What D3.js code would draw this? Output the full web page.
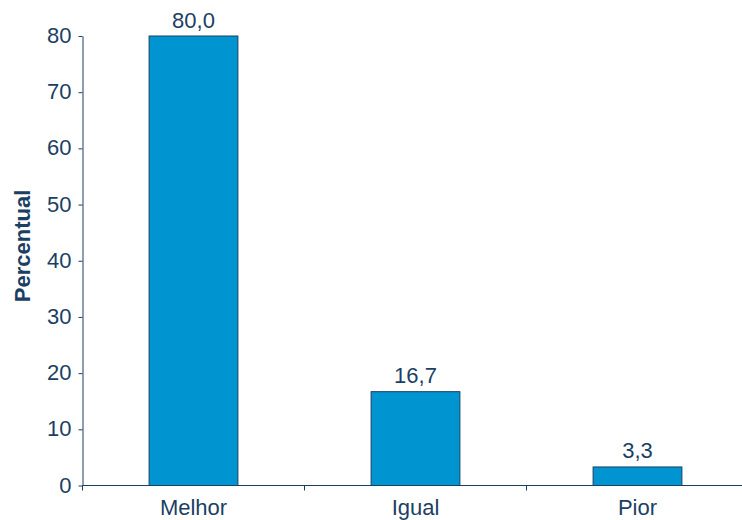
<!DOCTYPE html>
<html><head><meta charset="utf-8">
<script src="https://cdn.jsdelivr.net/npm/d3@7"></script>
<style>body{margin:0;background:#fff}svg{display:block;font-family:"Liberation Sans",Arial,sans-serif}</style>
</head><body>
<svg id="c" width="742" height="520"></svg>
<script>
const categories = ["Melhor", "Igual", "Pior"];
const values = [80.0, 16.7, 3.3];
const yTicks = [0, 10, 20, 30, 40, 50, 60, 70, 80];

const svg = d3.select("#c");
const ink = "#1b3f63";
const x = d3.scaleBand().domain(categories).range([82.5, 748.5]).paddingInner(0.6).paddingOuter(0.3);
const y = d3.scaleLinear().domain([0, 80]).range([485.5, 36]);

// bars
svg.selectAll("rect.bar").data(values).join("rect")
  .attr("class", "bar")
  .attr("x", (d, i) => x(categories[i]))
  .attr("y", d => y(d))
  .attr("width", x.bandwidth())
  .attr("height", d => y(0) - y(d))
  .attr("fill", "#0094d1")
  .attr("stroke", ink).attr("stroke-width", 1);

// value labels
svg.selectAll("text.val").data(values).join("text")
  .attr("class", "val")
  .attr("x", (d, i) => x(categories[i]) + x.bandwidth() / 2)
  .attr("y", d => y(d) - 8.5)
  .attr("text-anchor", "middle")
  .attr("font-size", 22).attr("fill", ink)
  .text(d => d.toFixed(1).replace(".", ","));

// y axis
const ya = svg.append("g").attr("transform", "translate(82.5,0)")
  .call(d3.axisLeft(y).tickValues(yTicks).tickSize(4).tickSizeOuter(0));
ya.select(".domain").attr("stroke", ink);
ya.selectAll(".tick line").attr("stroke", ink);
ya.selectAll(".tick text").attr("fill", ink).attr("font-size", 22).attr("x", -11).attr("dy", "0.3em")
  .attr("font-family", "Liberation Sans, Arial, sans-serif");

// x axis
const xa = svg.append("g").attr("transform", "translate(0,485.5)");
xa.append("line").attr("x1", 82.5).attr("x2", 742).attr("stroke", ink);
const step = x.step();
const bounds = categories.map((c, i) => 82.5 + step * i).concat([82.5 + step * 3]);
xa.selectAll("line.tk").data(bounds).join("line").attr("class", "tk")
  .attr("x1", d => d).attr("x2", d => d).attr("y1", 0).attr("y2", 5).attr("stroke", ink);
xa.selectAll("text").data(categories).join("text")
  .attr("x", d => x(d) + x.bandwidth() / 2)
  .attr("y", 29)
  .attr("text-anchor", "middle")
  .attr("font-size", 22).attr("fill", ink)
  .text(d => d);

// y title
svg.append("text")
  .attr("transform", "translate(30,246) rotate(-90)")
  .attr("text-anchor", "middle")
  .attr("font-size", 22).attr("font-weight", "bold").attr("fill", ink)
  .text("Percentual");
</script>
</body></html>
